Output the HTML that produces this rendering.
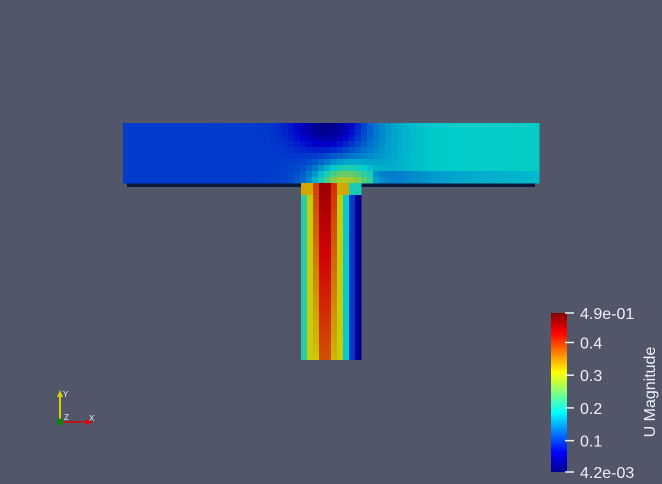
<!DOCTYPE html>
<html><head><meta charset="utf-8"><style>
html,body{margin:0;padding:0;background:#525669;width:662px;height:484px;overflow:hidden}
svg{display:block}
text{font-family:"Liberation Sans",sans-serif;fill:#eef0f4}
</style></head><body>
<svg id="s" width="662" height="484">
<defs>
<linearGradient id="jet" x1="0" y1="1" x2="0" y2="0">
<stop offset="0" stop-color="#00008f"/><stop offset="0.125" stop-color="#0000ff"/>
<stop offset="0.375" stop-color="#00ffff"/><stop offset="0.625" stop-color="#ffff00"/>
<stop offset="0.875" stop-color="#ff0000"/><stop offset="1" stop-color="#800000"/>
</linearGradient>
</defs>
<rect x="127" y="182" width="408" height="5" fill="#0a1a3a"/>
<g id="mesh"></g>
<rect x="551" y="313" width="16" height="159" fill="url(#jet)"/>
<g id="ticks"></g>
<text x="655" y="392" font-size="16" text-anchor="middle" transform="rotate(-90 655 392)">U Magnitude</text>
<g>
<line x1="60" y1="422" x2="60" y2="395" stroke="#d8d000" stroke-width="2"/>
<polygon points="57,397 63,397 60,390" fill="#d8d000"/>
<line x1="60" y1="422" x2="88" y2="422" stroke="#e00000" stroke-width="1.5"/>
<polygon points="86,419 86,425 93,422" fill="#e00000"/>
<circle cx="60" cy="422" r="3.5" fill="#108010"/>
<text x="63" y="397" font-size="8">Y</text><text x="64" y="420" font-size="8">Z</text><text x="89" y="421" font-size="8">X</text>
</g>
</svg>
<script>
const tickValues=[0.49,0.4,0.3,0.2,0.1,0.0042];
const tickLabels=["4.9e-01","0.4","0.3","0.2","0.1","4.2e-03"];
const stemProfile=[0.21,0.3,0.39,0.46,0.46,0.4,0.3,0.19,0.1,0.03];
const vmin=0.0042,vmax=0.49;
function jet(t){t=Math.max(0,Math.min(1,t));
 const f=(a)=>Math.max(0,Math.min(1,a));
 const r=f(1.5-Math.abs(4*t-3)),g=f(1.5-Math.abs(4*t-2)),b=f(1.5-Math.abs(4*t-1));
 return `rgb(${Math.round(r*255*0.82)},${Math.round(g*255*0.8)},${Math.round(b*255*0.8)})`;}
function norm(v){return (v-vmin)/(vmax-vmin);}
const svg=document.getElementById('mesh');const NS="http://www.w3.org/2000/svg";
function cell(x,y,w,h,v){const r=document.createElementNS(NS,'rect');
 r.setAttribute('x',x);r.setAttribute('y',y);r.setAttribute('width',w+0.5);r.setAttribute('height',h+0.5);
 r.setAttribute('fill',jet(norm(v)));
 
 
 svg.appendChild(r);}
const bx0=123,bx1=539,by0=123,by1=183,cw=6.1,ch=6;
for(let y=by0;y<by1;y+=ch){for(let x=bx0;x<bx1;x+=cw){
 const u=(x+cw/2-bx0)/(bx1-bx0),v=(y+ch/2-by0)/(by1-by0);
 let base=0.1+0.09/(1+Math.exp(-(u-0.6)*18));
 if(u>0.6&&v>0.8)base-=0.035*(1-(u-0.6)*1.5);
 const dk=Math.exp(-(((u-0.49)/0.08)**2+((v-0.05)/0.4)**2));
 base=base*(1-0.8*dk);
 const jn=Math.exp(-(((u-0.53)/0.07)**2+((v-1.05)/0.35)**2));
 base+=0.18*jn;
 cell(Math.min(x,bx1-cw),y,cw,ch,base);}}
const sx0=301,sx1=361,sy0=183,sy1=360;const scw=(sx1-sx0)/stemProfile.length;
for(let y=sy0;y<sy1;y+=6){const h=Math.min(6,sy1-y);for(let i=0;i<stemProfile.length;i++){
 const w=(y-sy0)/(sy1-sy0);let v=stemProfile[i];
 if(i>=2&&i<=5)v-=0.08*w;
 if(y<195){v=Math.max(v,0.33);if(i>=8)v=0.2;}
 cell(sx0+i*scw,y,scw,h-0.5,v);}}
const tg=document.getElementById('ticks');
const ty=v=>472-(v-vmin)/(vmax-vmin)*159;
tickValues.forEach((v,i)=>{const y=ty(v);
 const l=document.createElementNS(NS,'line');l.setAttribute('x1',565);l.setAttribute('x2',574);l.setAttribute('y1',y);l.setAttribute('y2',y);
 l.setAttribute('stroke','#eef0f4');l.setAttribute('stroke-width','1.5');
 
 tg.appendChild(l);
 const t=document.createElementNS(NS,'text');t.setAttribute('x',580);t.setAttribute('y',y+6);t.setAttribute('font-size','16');t.textContent=tickLabels[i];
 
 tg.appendChild(t);});
</script>
</body></html>
